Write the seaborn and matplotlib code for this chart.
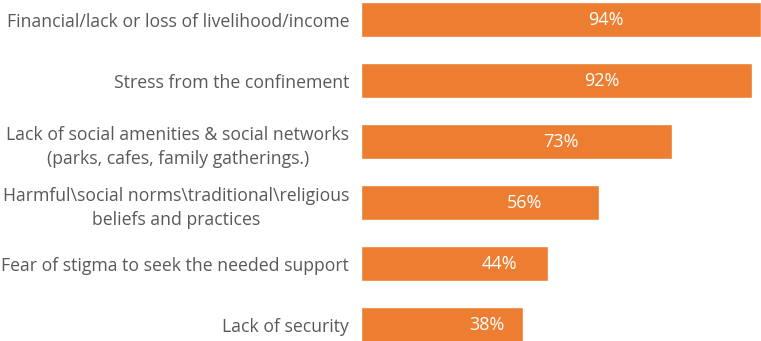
import matplotlib
matplotlib.use("Agg")
import matplotlib.pyplot as plt
import seaborn as sns
import pandas as pd

categories = [
    "Financial/lack or loss of livelihood/income",
    "Stress from the confinement",
    "Lack of social amenities & social networks\n(parks, cafes, family gatherings.)",
    "Harmful\\social norms\\traditional\\religious\nbeliefs and practices",
    "Fear of stigma to seek the needed support",
    "Lack of security",
]
values = [94, 92, 73, 56, 44, 38]
value_labels = ["94%", "92%", "73%", "56%", "44%", "38%"]

BAR_COLOR = "#ED7D31"
TEXT_COLOR = "#595959"

sns.set_theme(style="white")
plt.rcParams["font.family"] = ["Open Sans", "DejaVu Sans"]

df = pd.DataFrame({"category": categories, "value": values})

fig = plt.figure(figsize=(7.61, 3.41), dpi=100)
ax = fig.add_axes([361 / 761, 0, 1 - 361 / 761, 1])

sns.barplot(data=df, x="value", y="category", orient="h", color=BAR_COLOR,
            saturation=1, width=0.574, ax=ax)

ax.set_xlim(0, 94)
ax.set_ylim(5.270, -0.320)

for i, (v, lab) in enumerate(zip(values, value_labels)):
    ax.text((21 + v) / 2, i, lab, ha="center", va="center",
            color="white", fontsize=13)

ax.set_xlabel("")
ax.set_ylabel("")
ax.set_xticks([])
ax.tick_params(axis="y", length=0, pad=8.5, labelsize=12.7, labelcolor=TEXT_COLOR)
for t in ax.get_yticklabels():
    t.set_multialignment("center")
    t.set_linespacing(1.45)
for s in ax.spines.values():
    s.set_visible(False)

fig.savefig("out.png", dpi=100)
